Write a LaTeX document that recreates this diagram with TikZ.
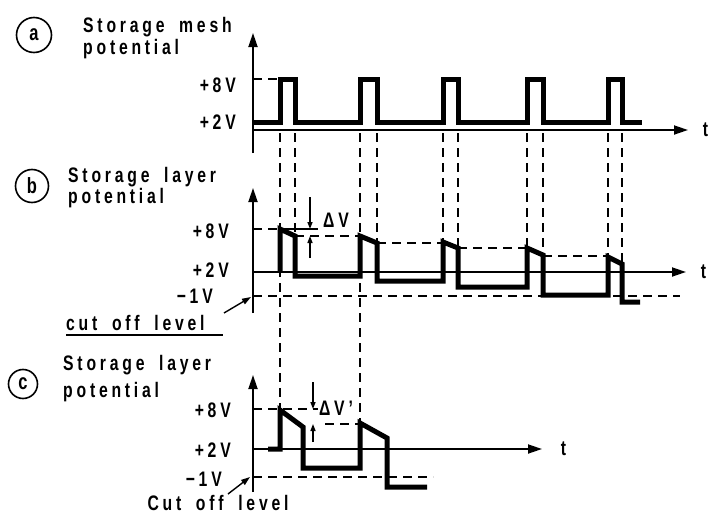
\documentclass[tikz,border=0pt]{standalone}
\usepackage{fontspec}
\setmainfont{Liberation Sans}[FakeStretch=0.75,LetterSpace=18,WordSpace=1.8]
\usetikzlibrary{arrows.meta, positioning}

\tikzset{
  sig/.style={line width=5pt, line join=miter},
  axis/.style={line width=1.8pt, -{Triangle[length=14pt,width=9pt]}},
  level/.style={line width=1.8pt, dash pattern=on 9pt off 6pt},
  txt/.style={font=\bfseries\fontsize{21}{24}\selectfont, inner sep=0pt},
  lbl/.style={txt, anchor=base west},
  val/.style={txt, anchor=east},
  tag/.style={draw, circle, line width=1.6pt, inner sep=0pt, font=\bfseries\fontsize{22}{24}\selectfont},
  dim/.style={line width=1.4pt, -{Triangle[length=7pt,width=5pt]}},
  pointer/.style={line width=1.4pt, -{Triangle[length=9pt,width=6pt]}},
}

\begin{document}
\begin{tikzpicture}[x=1pt, y=-1pt]
    \useasboundingbox (0,0) rectangle (710,522);

    % (a) Storage mesh potential
    \node[tag, minimum size=35pt] (tagA) at (34,35) {a};
    \node[lbl] (headA) at (83,32) {Storage mesh};
    \node[lbl] (headA2) at ([yshift=-22pt]headA.base west) {potential};
    \node[val] (aHigh) at (236,85) {+8V};
    \node[val] (aLow) at (236,122) {+2V};
    \draw[axis] (253,153) -- (253,33);
    \draw[axis] (253,130) -- (688,130) node[txt, right=14pt] (tA) {t};
    \draw[level] (253,79) -- (280,79);
    \draw[sig] (253,122) foreach \l/\r in {280/295,360/377,443/458,527/543,608/622} {
        -- (\l,122) -- (\l,79) -- (\r,79) -- (\r,122) } -- (642,122);

    % Hilfslinien nach unten
    \draw[level] (280,133) -- (280,410);
    \draw[level] (360,133) -- (360,423);
    \foreach \x/\y in {295/236,377/243,443/242,458/248,527/248,543/255,608/257,622/264}
        \draw[level] (\x,133) -- (\x,\y);

    % (b) Storage layer potential
    \node[tag, minimum size=33pt] (tagB) at (32,186) {b};
    \node[lbl] (headB) at (68,182) {Storage layer};
    \node[lbl] (headB2) at ([yshift=-21pt]headB.base west) {potential};
    \node[val] (bHigh) at (229,231) {+8V};
    \node[val] (bLow) at (229,270) {+2V};
    \node[val] (bCut) at (213,296) {−1V};
    \draw[axis] (253,313) -- (253,188);
    \draw[axis] (253,272) -- (686,272) node[txt, right=14pt] (tB) {t};
    \draw[level] (253,296) -- (680,296);
    \foreach \a/\b/\y in {253/280/229,295/360/236,377/443/243,458/527/248,543/608/256}
        \draw[level] (\a,\y) -- (\b,\y);
    \draw[line width=1.4pt] (280,229) -- (318,229);
    \draw[sig] (280,272) foreach \l/\r/\t/\e/\w in {280/295/229/236/276,360/377/236/243/281,
        443/458/242/248/287,527/543/248/255/295,608/622/257/264/302} {
        -| (\l,\t) -- (\r,\e) -- (\r,\w) } -- (640,302);
    \coordinate (dvTop) at (310,197);
    \coordinate (dvBot) at (310,258);
    \draw[dim] (dvTop) -- (310,229);
    \draw[dim] (dvBot) -- (310,236);
    \node[txt] (dV) at (336,220) {ΔV};
    \node[txt, anchor=base west] (cutB) at (66,330) {cut off level};
    \draw[line width=1.4pt] (66,335) -- (223,335);
    \coordinate (axB) at (251,297);
    \draw[pointer] (224,313) -- (axB);

    % (c) Storage layer potential
    \node[tag, minimum size=29pt] (tagC) at (23,384) {c};
    \node[lbl] (headC) at (63,370) {Storage layer};
    \node[lbl] (headC2) at ([yshift=-27pt]headC.base west) {potential};
    \node[val] (cHigh) at (231,410) {+8V};
    \node[val] (cLow) at (231,450) {+2V};
    \node[val] (cCut) at (222,479) {−1V};
    \draw[axis] (253,492) -- (253,375);
    \draw[axis] (253,449) -- (542,449) node[txt, right=18pt] (tC) {t};
    \draw[level] (253,409) -- (318,409);
    \draw[level] (325,424) -- (360,424);
    \draw[level] (253,477) -- (433,477);
    \draw[sig] (268,449) -- (280,449) -- (280,410) -- (303,427) -- (303,468) -- (360,468)
        -- (360,423) -- (387,438) -- (387,487) -- (427,487);
    \coordinate (dvcTop) at (313,382);
    \coordinate (dvcBot) at (313,442);
    \draw[dim] (dvcTop) -- (313,409);
    \draw[dim] (dvcBot) -- (313,424);
    \node[txt] (dVc) at (336,408) {ΔV'};
    \node[txt] (cutC) at (218,503) {Cut off level};
    \coordinate (axC) at (250,477);
    \draw[pointer] (228,494) -- (axC);
\end{tikzpicture}
\end{document}
